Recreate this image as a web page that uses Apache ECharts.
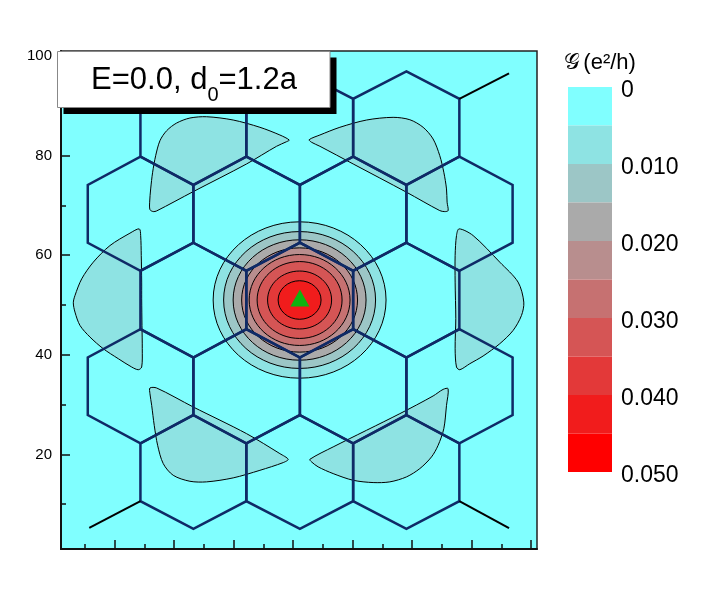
<!DOCTYPE html>
<html>
<head>
<meta charset="utf-8">
<title>conductance map</title>
<script src="https://cdn.jsdelivr.net/npm/echarts@6.0.0/dist/echarts.min.js"></script>
<style>
  html, body { margin: 0; padding: 0; background: #fff; }
  #chart { width: 707px; height: 593px; }
</style>
</head>
<body>
<div id="chart"></div>
<script>
// axis ticks
const xTicks = [10, 20, 30, 40, 50, 60, 70, 80];
const xMinorTicks = [5, 15, 25, 35, 45, 55, 65, 75];
const yTicks = [20, 40, 60, 80, 100];
const yMinorTicks = [10, 30, 50, 70, 90];

// contour levels of G (e^2/h)
const levels = [0, 0.005, 0.010, 0.015, 0.020, 0.025, 0.030, 0.035, 0.040, 0.045, 0.050];
const legendTicks = [0, 0.01, 0.02, 0.03, 0.04, 0.05];

// lattice vertex columns / rows
const latX = [5.5, 14.35, 23.25, 32.15, 41.15, 50.1, 59.05, 67.95, 76.9];
const latY = [96.9, 91.4, 79.8, 74.1, 62.5, 56.85, 45.15, 39.45, 27.9, 22.2, 10.6, 5.05];
// hexagons: [column of top vertex, row of top vertex]
const hexCells = [
  [2, 0], [4, 0], [6, 0],
  [1, 2], [3, 2], [5, 2], [7, 2],
  [2, 4], [4, 4], [6, 4],
  [1, 6], [3, 6], [5, 6], [7, 6],
  [2, 8], [4, 8], [6, 8]
];
// dangling edge bonds [x1, y1, x2, y2]
const bonds = [
  [14.35, 91.4, 5.75, 96.5],
  [67.95, 91.4, 76.3, 96.5],
  [14.35, 10.6, 5.75, 5.25],
  [67.95, 10.6, 76.3, 5.2]
];

// outer 0.005 contour patches
const blobTopLeft = [
  [39.35, 83.13], [37.79, 84.13], [34.43, 85.68], [29.94, 87.14], [25.48, 87.8], [22.67, 87.54],
  [20.44, 86.54], [18.76, 85.0], [17.63, 82.99], [16.91, 79.98], [16.4, 76.65], [16.07, 73.3],
  [15.9, 70.64], [15.95, 69.15], [16.5, 68.75], [17.08, 68.89], [23.22, 72.76], [32.19, 78.32],
  [37.23, 81.87], [38.91, 82.79]
];
const blobTopRight = [
  [42.71, 83.19], [44.51, 84.13], [47.87, 85.68], [52.35, 87.14], [56.82, 87.68], [59.63, 87.2],
  [61.86, 85.68], [63.54, 83.33], [64.66, 79.98], [65.34, 76.65], [65.79, 73.3], [65.89, 70.64],
  [66.06, 68.95], [65.5, 68.75], [64.66, 68.95], [59.07, 72.64], [50.1, 78.32], [44.51, 81.87],
  [43.11, 82.67]
];
const blobLeft = [
  [14.15, 65.28], [12.59, 64.42], [9.23, 61.93], [6.43, 58.6], [4.48, 55.25], [3.35, 51.9],
  [3.07, 50.44], [3.35, 48.57], [4.19, 45.89], [5.87, 43.56], [8.11, 41.21], [10.63, 39.21],
  [12.88, 37.54], [13.99, 37.0], [14.56, 37.54], [14.66, 41.21], [14.61, 45.89], [14.56, 51.24],
  [14.56, 54.59], [14.49, 59.92], [14.39, 63.94]
];
const blobRight = [
  [67.91, 65.28], [70.26, 63.94], [74.74, 58.6], [77.82, 54.59], [78.78, 50.58], [78.39, 47.89],
  [76.98, 44.88], [74.74, 42.22], [71.94, 39.75], [69.7, 38.2], [68.03, 37.0], [67.47, 37.54],
  [67.24, 41.21], [67.35, 47.23], [67.24, 54.59], [67.24, 59.92], [67.47, 63.94]
];
const blobBottomLeft = [
  [15.95, 33.33], [17.08, 33.33], [23.22, 29.52], [32.19, 24.16], [37.79, 20.15], [39.18, 19.01],
  [38.34, 18.35], [34.43, 16.8], [29.94, 15.28], [25.48, 14.48], [22.67, 14.6], [19.86, 15.8],
  [18.18, 18.15], [17.24, 21.82], [16.67, 25.83], [16.24, 29.84], [15.95, 32.19]
];
const blobBottomRight = [
  [42.83, 19.01], [46.74, 21.5], [57.95, 28.18], [63.54, 31.73], [65.22, 33.05], [66.06, 33.19],
  [65.79, 29.84], [65.34, 25.17], [64.38, 21.82], [63.27, 19.49], [61.31, 17.15], [59.07, 15.48],
  [56.27, 14.48], [53.46, 14.34], [50.1, 14.8], [46.74, 16.14], [44.22, 17.49], [43.11, 18.49]
];
const blobs = [blobTopLeft, blobTopRight, blobLeft, blobRight, blobBottomLeft, blobBottomRight];

// central peak: contours 0.005 ... 0.040 (outer to inner)
const ringCenter = [41.1, 51.0];
const ringRx = [14.53, 12.77, 11.17, 9.74, 8.48, 7.14, 5.38, 3.61];
const ringRy = [15.7, 13.74, 12.09, 10.47, 9.13, 7.72, 5.82, 3.87];

// tip / probe site
const site = [[41.15, 51.4]];

const colors = ['#80ffff', '#8ee3e3', '#9cc6c6', '#aaaaaa', '#b88e8e',
                '#c67171', '#d55555', '#e33939', '#f11c1c', '#ff0000'];
const fontFam = '"Liberation Sans", Arial, Helvetica, sans-serif';
const bondColor = '#0f2a66';

let myChart = echarts.init(document.getElementById('chart'));

const blobSeries = {
  type: 'custom',
  xAxisIndex: 0,
  yAxisIndex: 0,
  data: blobs.map(function (b) { return b[0]; }),
  renderItem: function (params, api) {
    let pts = blobs[params.dataIndex].map(function (p) { return api.coord(p); });
    return {
      type: 'polygon',
      shape: { points: pts, smooth: 0.3 },
      style: { fill: colors[1], stroke: '#000', lineWidth: 1 }
    };
  }
};

const ringSeries = {
  type: 'custom',
  xAxisIndex: 0,
  yAxisIndex: 0,
  data: ringRx.map(function (r, i) { return [ringCenter[0], ringCenter[1], ringRx[i], ringRy[i]]; }),
  renderItem: function (params, api) {
    let c = api.coord([api.value(0), api.value(1)]);
    let s = api.size([api.value(2), api.value(3)]);
    return {
      type: 'ellipse',
      shape: { cx: c[0], cy: c[1], rx: s[0], ry: s[1] },
      style: { fill: colors[params.dataIndex + 1], stroke: '#000', lineWidth: 1 }
    };
  }
};

const hexSeries = {
  type: 'custom',
  xAxisIndex: 0,
  yAxisIndex: 0,
  data: hexCells,
  renderItem: function (params, api) {
    let c = hexCells[params.dataIndex][0];
    let r = hexCells[params.dataIndex][1];
    let idx = [[c, r], [c + 1, r + 1], [c + 1, r + 2], [c, r + 3], [c - 1, r + 2], [c - 1, r + 1]];
    let pts = idx.map(function (v) { return api.coord([latX[v[0]], latY[v[1]]]); });
    return {
      type: 'polygon',
      shape: { points: pts },
      style: { fill: null, stroke: bondColor, lineWidth: 2.5, lineJoin: 'miter' }
    };
  }
};

const bondSeries = {
  type: 'custom',
  xAxisIndex: 0,
  yAxisIndex: 0,
  data: bonds,
  renderItem: function (params, api) {
    let p1 = api.coord([api.value(0), api.value(1)]);
    let p2 = api.coord([api.value(2), api.value(3)]);
    return {
      type: 'line',
      shape: { x1: p1[0], y1: p1[1], x2: p2[0], y2: p2[1] },
      style: { stroke: '#000', lineWidth: 2 }
    };
  }
};

const siteSeries = {
  type: 'scatter',
  xAxisIndex: 0,
  yAxisIndex: 0,
  symbol: 'triangle',
  symbolSize: [19, 17],
  itemStyle: { color: '#10b410', opacity: 1 },
  data: site
};

const legendSeries = {
  type: 'custom',
  xAxisIndex: 2,
  yAxisIndex: 2,
  data: levels.slice(0, -1).map(function (lo, i) { return [lo, levels[i + 1]]; }),
  renderItem: function (params, api) {
    let p1 = api.coord([0, api.value(0)]);
    let p2 = api.coord([1, api.value(1)]);
    return {
      type: 'rect',
      shape: { x: p1[0], y: Math.min(p1[1], p2[1]), width: p2[0] - p1[0], height: Math.abs(p2[1] - p1[1]) },
      style: { fill: colors[params.dataIndex] }
    };
  }
};

const tickStyle = { color: '#111', width: 1.5 };

let option = {
  animation: false,
  grid: [
    { left: 61, top: 51, width: 476, height: 498, show: true,
      backgroundColor: colors[0], borderColor: '#222', borderWidth: 1.5 },
    { left: 568, top: 87, width: 44, height: 385 },
    // legend labels sit a few pixels below the band edges
    { left: 568, top: 91, width: 44, height: 385 }
  ],
  xAxis: [
    { gridIndex: 0, type: 'value', min: 1, max: 81, position: 'bottom',
      axisLine: { show: true, lineStyle: { color: '#111', width: 2 } },
      axisTick: { show: true, inside: true, length: 9, customValues: xTicks, lineStyle: tickStyle },
      axisLabel: { show: false }, splitLine: { show: false } },
    { gridIndex: 0, type: 'value', min: 1, max: 81, position: 'bottom',
      axisLine: { show: false },
      axisTick: { show: true, inside: true, length: 5, customValues: xMinorTicks, lineStyle: tickStyle },
      axisLabel: { show: false }, splitLine: { show: false } },
    { gridIndex: 1, type: 'value', min: 0, max: 1, show: false },
    { gridIndex: 2, type: 'value', min: 0, max: 1, show: false }
  ],
  yAxis: [
    { gridIndex: 0, type: 'value', min: 1, max: 101, position: 'left',
      axisLine: { show: true, lineStyle: { color: '#111', width: 2 } },
      axisTick: { show: true, inside: true, length: 9, customValues: yTicks, lineStyle: tickStyle },
      axisLabel: { show: true, customValues: yTicks, margin: 9, fontSize: 15, color: '#000', fontFamily: fontFam },
      splitLine: { show: false } },
    { gridIndex: 0, type: 'value', min: 1, max: 101, position: 'left',
      axisLine: { show: false },
      axisTick: { show: true, inside: true, length: 5, customValues: yMinorTicks, lineStyle: tickStyle },
      axisLabel: { show: false }, splitLine: { show: false } },
    { gridIndex: 1, type: 'value', min: 0, max: 0.05, inverse: true, position: 'right',
      axisLine: { show: false }, axisTick: { show: false }, splitLine: { show: false },
      axisLabel: { show: false } },
    { gridIndex: 2, type: 'value', min: 0, max: 0.05, inverse: true, position: 'right',
      axisLine: { show: false }, axisTick: { show: false }, splitLine: { show: false },
      axisLabel: { show: true, customValues: legendTicks, margin: 9, fontSize: 23, color: '#000',
        fontFamily: fontFam,
        formatter: function (v) { return v === 0 ? '0' : v.toFixed(3); } } }
  ],
  graphic: [
    { type: 'rect', z: 100, shape: { x: 63.5, y: 57.5, width: 273, height: 56.5 }, style: { fill: '#000' } },
    { type: 'rect', z: 101, shape: { x: 57.5, y: 51.5, width: 272.5, height: 56 },
      style: { fill: '#fff', stroke: '#888', lineWidth: 1 } },
    { type: 'text', z: 102, x: 194, y: 80,
      style: { text: '{m|E=0.0, d}{s|0}{m|=1.2a}', align: 'center', verticalAlign: 'middle',
        rich: {
          m: { fontSize: 31, fontFamily: fontFam, fill: '#000', lineHeight: 50 },
          s: { fontSize: 20, fontFamily: fontFam, fill: '#000', lineHeight: 20, verticalAlign: 'bottom' }
        } } },
    { type: 'text', z: 102, x: 564, y: 63,
      style: { text: '{g|\uD835\uDCA2} {t|(e\u00B2/h)}', align: 'left', verticalAlign: 'middle',
        rich: {
          g: { fontSize: 22, fontFamily: fontFam, fill: '#000' },
          t: { fontSize: 22, fontFamily: fontFam, fill: '#000' }
        } } }
  ],
  series: [blobSeries, ringSeries, hexSeries, bondSeries, siteSeries, legendSeries]
};

myChart.setOption(option);
window.addEventListener('resize', function () { myChart && myChart.resize(); });
</script>
</body>
</html>
